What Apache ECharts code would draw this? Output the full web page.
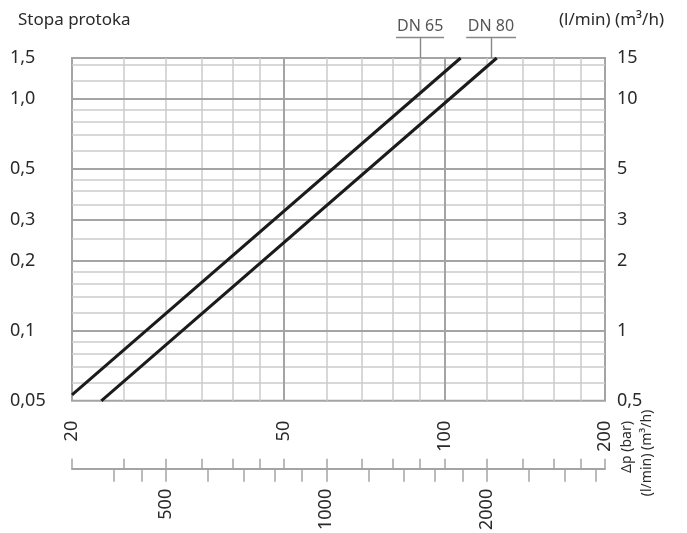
<!DOCTYPE html>
<html>
<head>
<meta charset="utf-8">
<script src="https://cdn.jsdelivr.net/npm/echarts@6/dist/echarts.min.js"></script>
<style>
  html, body { margin: 0; padding: 0; background: #fff; }
  #chart { width: 687px; height: 533px; }
</style>
</head>
<body>
<div id="chart"></div>
<script>
// ---- Flow rate scale (left) and its companion scale (right) ----
const flowTicks = [0.05, 0.1, 0.2, 0.3, 0.5, 1.0, 1.5];
const flowLabels = ['0,05', '0,1', '0,2', '0,3', '0,5', '1,0', '1,5'];
const flowRightTicks = [0.5, 1, 2, 3, 5, 10, 15];
const flowRightLabels = ['0,5', '1', '2', '3', '5', '10', '15'];
const flowMinor = [0.06, 0.07, 0.08, 0.09, 0.12, 0.14, 0.16, 0.18, 0.25,
                   0.35, 0.4, 0.45, 0.6, 0.7, 0.8, 0.9, 1.2, 1.4];
const flowMajor = [0.1, 0.2, 0.3, 0.5, 1.0];

// ---- Pressure-drop scale (m3/h) and l/min scale underneath ----
const dpTicks = [20, 50, 100, 200];
const dpMinor = [25, 30, 35, 40, 45, 60, 70, 80, 90, 120, 140, 160, 180];
const dpMajor = [50, 100];
const dpScaleTicks = [20, 25, 30, 35, 40, 45, 50, 60, 70, 80, 90, 100, 120, 140, 160, 180, 200];
const lpmLabels = [500, 1000, 2000];
const lpmTicks = [400, 450, 500, 600, 700, 800, 900, 1000, 1200, 1400, 1600, 1800,
                  2000, 2400, 2800, 3200];

// ---- Valve curves ----
const dn65 = [[20, 0.053], [107.2, 1.5]];
const dn80 = [[22.7, 0.05], [125.3, 1.5]];

// ---- Curve tags: leader line, underline and caption ----
const tagTop = 1.85;
const dn65Tag = { x: 90, from: 1.06, under: [81.1, 99.8], text: 'DN 65' };
const dn80Tag = { x: 122.2, from: 1.5, under: [109.8, 136.2], text: 'DN 80' };

const FONT = 'Noto Sans';
const TXT = '#2a2a2a';
const MINOR = '#cbcbcb';
const MAJOR = '#a4a4a4';

function pick(values, labels) {
  return function (v) {
    for (let i = 0; i < values.length; i++) {
      if (Math.abs(Math.log(v / values[i])) < 1e-4) return labels[i];
    }
    return '';
  };
}

function gridLines(axisKey, values, color, width) {
  return values.map(v => ({ [axisKey]: v, lineStyle: { color: color, width: width, type: 'solid' } }));
}

const chart = echarts.init(document.getElementById('chart'), null, { renderer: 'canvas' });

const option = {
  animation: false,
  backgroundColor: '#fff',
  textStyle: { fontFamily: FONT, color: TXT },
  grid: {
    left: 72, right: 82, top: 58, bottom: 128,
    show: true, borderColor: MAJOR, borderWidth: 2, backgroundColor: 'transparent'
  },
  xAxis: [
    {
      type: 'log', min: 20, max: 200, position: 'bottom',
      axisLine: { show: false },
      axisTick: { show: false },
      splitLine: { show: false },
      axisLabel: {
        customValues: dpTicks, formatter: pick(dpTicks, dpTicks.map(String)),
        rotate: 90, margin: 20, fontSize: 18, fontFamily: FONT, color: TXT
      }
    },
    {
      type: 'log', min: 20, max: 200, position: 'bottom', offset: 68,
      axisLine: { show: true, lineStyle: { color: MAJOR, width: 2 } },
      axisTick: { show: true, inside: true, length: 10, customValues: dpScaleTicks,
                  lineStyle: { color: MAJOR, width: 1.5 } },
      axisLabel: { show: false },
      splitLine: { show: false }
    },
    {
      type: 'log', min: 1000 / 3, max: 10000 / 3, position: 'bottom', offset: 68,
      axisLine: { show: false },
      axisTick: { show: true, inside: false, length: 13, customValues: lpmTicks,
                  lineStyle: { color: MAJOR, width: 1.5 } },
      axisLabel: {
        customValues: lpmLabels, formatter: pick(lpmLabels, lpmLabels.map(String)),
        rotate: 90, margin: 20, fontSize: 18, fontFamily: FONT, color: TXT
      },
      splitLine: { show: false }
    }
  ],
  yAxis: [
    {
      type: 'log', min: 0.05, max: 1.5, position: 'left',
      axisLine: { show: false },
      axisTick: { show: false },
      splitLine: { show: false },
      axisLabel: {
        customValues: flowTicks, formatter: pick(flowTicks, flowLabels),
        align: 'left', margin: 62, fontSize: 18, fontFamily: FONT, color: TXT
      }
    },
    {
      type: 'log', min: 0.5, max: 15, position: 'right',
      axisLine: { show: false },
      axisTick: { show: false },
      splitLine: { show: false },
      axisLabel: {
        customValues: flowRightTicks, formatter: pick(flowRightTicks, flowRightLabels),
        align: 'left', margin: 12, fontSize: 18, fontFamily: FONT, color: TXT
      }
    }
  ],
  graphic: [
    { type: 'text', x: 18, y: 20,
      style: { text: 'Stopa protoka', font: '17px "' + FONT + '"', fill: TXT, verticalAlign: 'middle' } },
    { type: 'text', x: 559, y: 20,
      style: { text: '(l/min) (m³/h)', font: '17px "' + FONT + '"', fill: TXT, verticalAlign: 'middle' } },
    { type: 'text', x: 627, y: 447, rotation: Math.PI / 2,
      style: { text: 'Δp (bar)', font: '14px "' + FONT + '"', fill: TXT, align: 'center', verticalAlign: 'middle' } },
    { type: 'text', x: 647, y: 453, rotation: Math.PI / 2,
      style: { text: '(l/min) (m³/h)', font: '14px "' + FONT + '"', fill: TXT, align: 'center', verticalAlign: 'middle' } }
  ],
  series: [
    {
      name: 'grid-minor', type: 'line', data: [], silent: true, z: 1,
      markLine: {
        silent: true, symbol: ['none', 'none'], label: { show: false }, animation: false,
        data: gridLines('xAxis', dpMinor, MINOR, 1.5).concat(gridLines('yAxis', flowMinor, MINOR, 1.5))
      }
    },
    {
      name: 'grid-major', type: 'line', data: [], silent: true, z: 2,
      markLine: {
        silent: true, symbol: ['none', 'none'], label: { show: false }, animation: false,
        data: gridLines('xAxis', dpMajor, MAJOR, 2).concat(gridLines('yAxis', flowMajor, MAJOR, 2))
      }
    },
    {
      name: 'tags', type: 'lines', coordinateSystem: 'cartesian2d', clip: false, z: 3,
      silent: true,
      lineStyle: { color: '#888888', width: 1.4, opacity: 1, curveness: 0 },
      data: [dn65Tag, dn80Tag].flatMap(t => [
        { coords: [[t.x, t.from], [t.x, tagTop]] },
        { coords: [[t.under[0], tagTop], [t.under[1], tagTop]] }
      ])
    },
    {
      name: 'tag-text', type: 'scatter', clip: false, symbolSize: 0, z: 3, silent: true,
      data: [dn65Tag, dn80Tag].map(t => ({ value: [t.x, tagTop], name: t.text })),
      label: {
        show: true, position: 'top', distance: 2, formatter: '{b}',
        fontFamily: FONT, fontSize: 16, color: TXT
      }
    },
    {
      name: 'DN 65', type: 'line', data: dn65, showSymbol: false, z: 5,
      lineStyle: { color: '#1b1b1b', width: 3 }
    },
    {
      name: 'DN 80', type: 'line', data: dn80, showSymbol: false, z: 5,
      lineStyle: { color: '#1b1b1b', width: 3 }
    }
  ]
};

chart.setOption(option);
</script>
</body>
</html>
